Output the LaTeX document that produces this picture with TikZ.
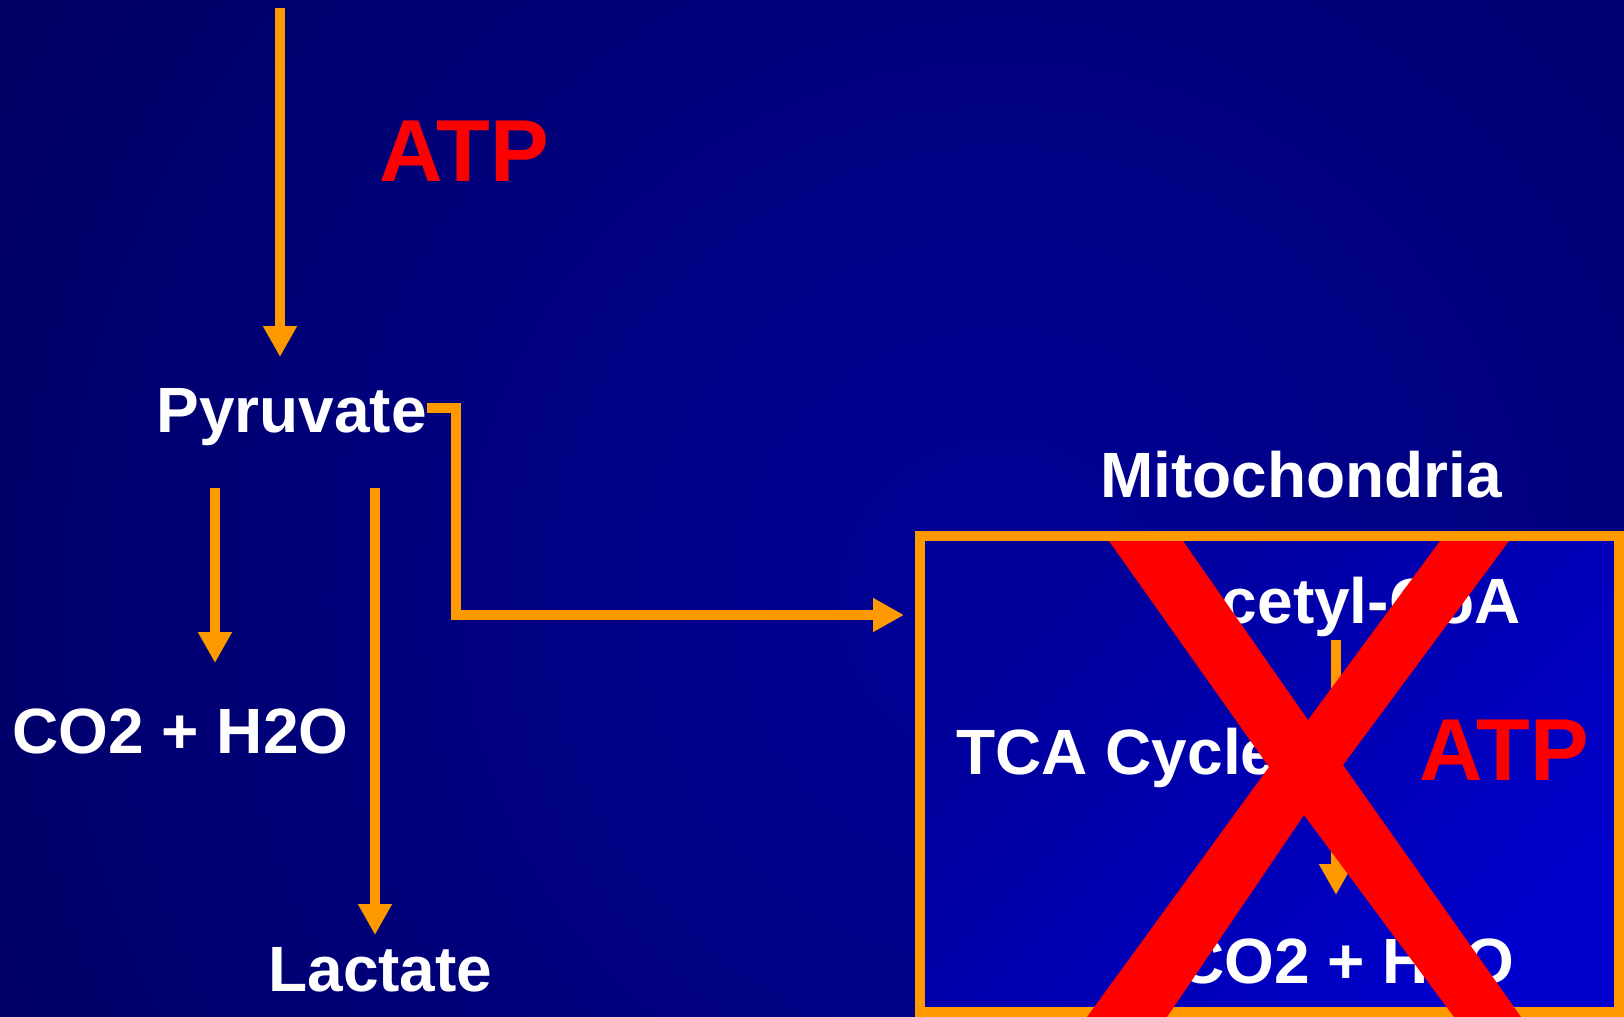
\documentclass[tikz,border=0pt]{standalone}
\usepackage{fontspec}
\setmainfont{Liberation Sans}
\usetikzlibrary{arrows.meta}
\definecolor{bgin}{HTML}{000098}
\definecolor{bgout}{HTML}{000022}
\definecolor{boxa}{HTML}{000098}
\definecolor{boxb}{HTML}{0000CC}
\definecolor{flowc}{HTML}{FF9900}
\definecolor{atpc}{HTML}{FF0000}
\tikzset{
  lbl/.style={text=white, inner sep=0pt, font=\bfseries\fontsize{32}{36}\selectfont},
  atp/.style={text=atpc, inner sep=0pt, font=\bfseries\fontsize{44}{48}\selectfont},
  flow/.style={draw=flowc, line width=5pt, -{Triangle[length=15.5pt,width=16pt]}}
}
\begin{document}
\begin{tikzpicture}[x=0.5pt,y=-0.5pt]
  \useasboundingbox (0,0) rectangle (1624,1017);
  % background
  \begin{scope}
    \clip (0,0) rectangle (1624,1017);
    \shade[inner color=bgin, outer color=bgout] (1000,600) circle (2600);
  \end{scope}
  % mitochondria box
  \node[draw=flowc, line width=5pt, top color=boxa, bottom color=boxb, shading angle=45,
    minimum width=349.5pt, minimum height=238pt, inner sep=0pt] (mbox) at (1269.5,774) {};
  % labels
  \node[atp, anchor=base west] (atp1) at (379,181) {ATP};
  \node[lbl, anchor=base west] (pyr) at (156,432) {Pyruvate};
  \node[lbl, anchor=base west] (co2a) at (12,753) {CO2 + H2O};
  \node[lbl, anchor=base west] (lac) at (268,991) {Lactate};
  \node[lbl, anchor=base west] (mito) at (1100,497) {Mitochondria};
  \node[lbl, anchor=base east] (acoa) at (1521,623) {Acetyl-CoA};
  \node[lbl, anchor=base west] (tca) at (956,774) {TCA Cycle};
  \node[atp, anchor=base west] (atp2) at (1419,780) {ATP};
  \node[lbl, anchor=base east] (co2b) at (1515,983) {CO2 + H2O};
  % arrow ends
  \coordinate (src) at (280,8); \coordinate (src2) at (280,357);
  \coordinate (ox) at (215,488); \coordinate (ox2) at (215,663);
  \coordinate (an) at (375,488); \coordinate (an2) at (375,935);
  \coordinate (bend) at (456,615); \coordinate (mi) at (904,615);
  \coordinate (tc) at (1336,640); \coordinate (tc2) at (1336,895);
  \draw[flow] (src) -- (src2);
  \draw[flow] ([yshift=12pt]pyr.base east) -| (bend) -- (mi);
  \draw[flow] (ox) -- (ox2);
  \draw[flow] (an) -- (an2);
  \draw[flow] (tc) -- (tc2);
  % the cross
  \fill[atpc] (1109,541) -- (1183,541) -- (1308,720) -- (1440,541) -- (1509,541)
    -- (1343,765) -- (1521,1017) -- (1454,1017) -- (1304,815) -- (1167,1017)
    -- (1087,1017) -- (1269,767) -- cycle;
\end{tikzpicture}
\end{document}
